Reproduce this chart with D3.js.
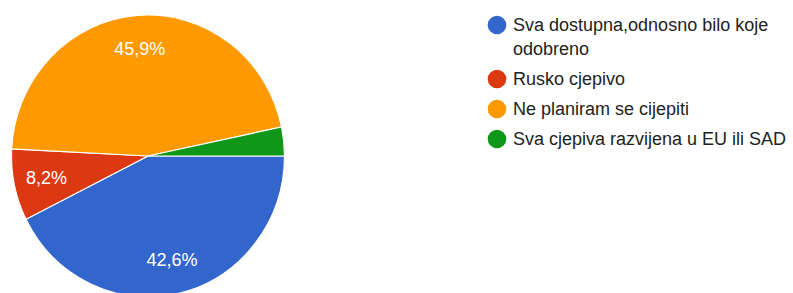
<!DOCTYPE html>
<html>
<head>
<meta charset="utf-8">
<script src="https://cdn.jsdelivr.net/npm/d3@7"></script>
<style>
  html, body { margin: 0; padding: 0; background: #fff; }
  svg { display: block; font-family: "Liberation Sans", Arial, sans-serif; }
</style>
</head>
<body>
<svg id="chart" width="793" height="293"></svg>
<script>
const categories = ["Sva dostupna,odnosno bilo koje odobreno", "Rusko cjepivo", "Ne planiram se cijepiti", "Sva cjepiva razvijena u EU ili SAD"];
const legendLines = [["Sva dostupna,odnosno bilo koje", "odobreno"], ["Rusko cjepivo"], ["Ne planiram se cijepiti"], ["Sva cjepiva razvijena u EU ili SAD"]];
const values = [42.6, 8.2, 45.9, 3.3];
const labels = ["42,6%", "8,2%", "45,9%", ""];
const colors = ["#3366cc", "#dc3912", "#ff9900", "#109618"];

const svg = d3.select("#chart");
const cx = 148, cy = 156, rx = 136.5, ry = 141;
const sy = ry / rx;

const pie = d3.pie().sort(null).value(d => d).startAngle(Math.PI / 2).endAngle(Math.PI / 2 + 2 * Math.PI);
const arcs = pie(values);
const arc = d3.arc().innerRadius(0).outerRadius(rx);
const labelArc = d3.arc().innerRadius(rx * 0.76).outerRadius(rx * 0.76);

const g = svg.append("g").attr("transform", `translate(${cx},${cy}) scale(1,${sy})`);
g.selectAll("path").data(arcs).join("path")
  .attr("d", arc)
  .attr("fill", (d, i) => colors[i])
  .attr("stroke", "#fff")
  .attr("stroke-width", 1.2)
  .attr("vector-effect", "non-scaling-stroke");

svg.append("g").selectAll("text").data(arcs).join("text")
  .attr("x", d => cx + labelArc.centroid(d)[0])
  .attr("y", d => cy + labelArc.centroid(d)[1] * sy)
  .attr("text-anchor", "middle")
  .attr("dominant-baseline", "central")
  .attr("fill", "#fff")
  .attr("font-size", 18)
  .text((d, i) => labels[i]);

// legend
const itemY = [25, 79, 109, 139];
const leg = svg.append("g");
categories.forEach((c, i) => {
  const item = leg.append("g").attr("transform", `translate(0,${itemY[i]})`);
  item.append("circle").attr("cx", 497).attr("cy", 0).attr("r", 9.3).attr("fill", colors[i]);
  const t = item.append("text").attr("x", 513).attr("y", 0).attr("fill", "#222")
    .attr("font-size", 18);
  legendLines[i].forEach((ln, j) => {
    t.append("tspan").attr("x", 513).attr("dy", j === 0 ? "0.35em" : 24).text(ln);
  });
});
</script>
</body>
</html>
